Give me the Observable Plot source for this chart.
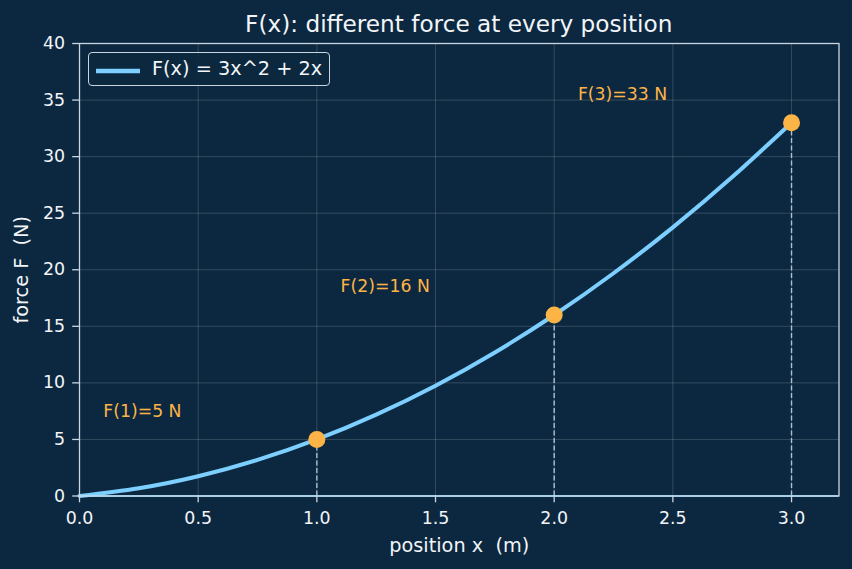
<!DOCTYPE html>
<html>
<head>
<meta charset="utf-8">
<script src="https://cdn.jsdelivr.net/npm/d3@7"></script>
<script src="https://cdn.jsdelivr.net/npm/@observablehq/plot@0.6"></script>
<style>
  html, body { margin: 0; padding: 0; background: #0c2840; }
  #chart { position: relative; width: 852px; height: 569px; background: #0c2840; font-family: "DejaVu Sans", sans-serif; overflow: hidden; }
  #title { position: absolute; left: 79px; width: 759.5px; top: 10px; text-align: center; color: #f2f5f8; font-size: 23.2px; line-height: normal; white-space: pre; }
  #legend { position: absolute; left: 88px; top: 52px; width: 242px; height: 34px; box-sizing: border-box; border: 1.3px solid #c9d6e1; border-radius: 4px; background: rgba(12,40,64,0.85); }
  #legend svg { position: absolute; left: 6px; top: 15px; }
  #legend span { position: absolute; left: 63px; top: 4px; color: #f2f5f8; font-size: 19.3px; line-height: normal; white-space: pre; }
  #chart svg g[aria-label="x-axis label"], #chart svg g[aria-label="y-axis label"] { font-size: 19.3px; }
</style>
</head>
<body>
<div id="chart">
  <div id="title">F(x): different force at every position</div>
</div>
<script>
// Sampled force curve F(x) = 3x^2 + 2x (newtons) along position x (metres)
const curveX = [0, 0.25, 0.5, 0.75, 1, 1.25, 1.5, 1.75, 2, 2.25, 2.5, 2.75, 3];
const curveF = [0, 0.69, 1.75, 3.19, 5, 7.19, 9.75, 12.69, 16, 19.69, 23.75, 28.19, 33];

// Highlighted positions and their forces
const markX = [1, 2, 3];
const markF = [5, 16, 33];

// Axis ticks
const xTicks = [0, 0.5, 1, 1.5, 2, 2.5, 3];
const yTicks = [0, 5, 10, 15, 20, 25, 30, 35, 40];

const legendLabel = "F(x) = 3x^2 + 2x";

const curve = curveX.map((x, i) => ({x, F: curveF[i]}));
const marks = markX.map((x, i) => ({x, F: markF[i], label: `F(${x})=${markF[i]} N`}));

const bg = "#0c2840";
const ink = "#f2f5f8";
const spine = "#c9d6e1";
const lineColor = "#7ccfff";
const orange = "#fdb446";

const plot = Plot.plot({
  width: 852,
  height: 569,
  marginLeft: 79,
  marginRight: 13.5,
  marginTop: 43,
  marginBottom: 73.5,
  style: {background: bg, color: ink, fontFamily: "'DejaVu Sans', sans-serif", fontSize: "17.4px"},
  x: {domain: [0, 3.2]},
  y: {domain: [0, 40]},
  marks: [
    Plot.gridX(xTicks, {stroke: "#ffffff", strokeOpacity: 0.18, strokeWidth: 0.9}),
    Plot.gridY(yTicks, {stroke: "#ffffff", strokeOpacity: 0.18, strokeWidth: 0.9}),
    Plot.ruleX(marks, {x: "x", y1: 0, y2: "F", stroke: "#bccddb", strokeOpacity: 0.9, strokeWidth: 1.4, strokeDasharray: "5,2.5"}),
    Plot.line(curve, {x: "x", y: "F", stroke: lineColor, strokeWidth: 4, curve: "natural"}),
    Plot.dot(marks, {x: "x", y: "F", r: 8.5, fill: orange, stroke: "none"}),
    Plot.text(marks, {x: d => d.x - 0.9, y: d => d.F + 2, text: "label", textAnchor: "start", lineAnchor: "bottom", fill: orange, fontSize: 17.3}),
    Plot.frame({stroke: spine, strokeWidth: 1.3}),
    Plot.ruleY([0], {stroke: "#b3dcf7", strokeWidth: 1.6}),
    Plot.axisX({ticks: xTicks, tickFormat: d3.format(".1f"), tickSize: 6.8, tickPadding: 8.5, stroke: spine, strokeWidth: 1.3, color: ink,
      label: "position x  (m)", labelAnchor: "center", labelArrow: "none", labelOffset: 55.5}),
    Plot.axisY({ticks: yTicks, tickSize: 6.8, tickPadding: 7.5, stroke: spine, strokeWidth: 1.3, color: ink,
      label: "force F  (N)", labelAnchor: "center", labelArrow: "none", labelOffset: 65})
  ]
});

const chart = document.getElementById("chart");
chart.insertBefore(plot, chart.firstChild);

// Legend box drawn over the top-left of the frame
const legend = document.createElement("div");
legend.id = "legend";
legend.innerHTML = `<svg width="46" height="6"><line x1="1" y1="3" x2="45" y2="3" stroke="${lineColor}" stroke-width="4.5"></line></svg><span></span>`;
legend.querySelector("span").textContent = legendLabel;
chart.appendChild(legend);
</script>
</body>
</html>
